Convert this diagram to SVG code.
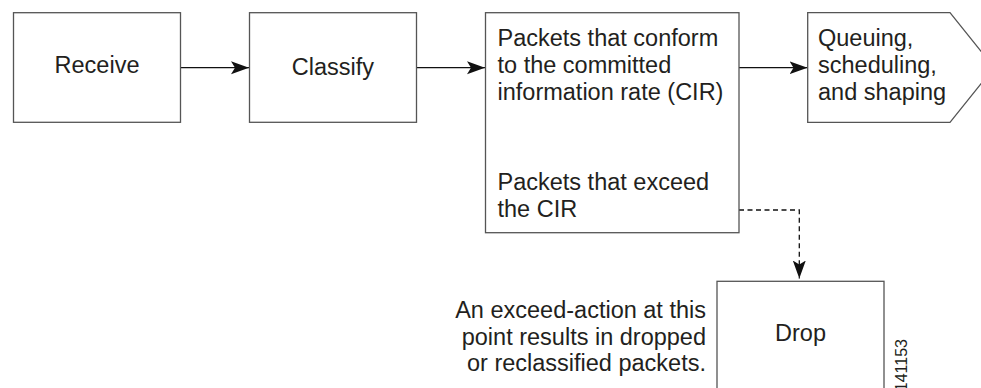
<svg xmlns="http://www.w3.org/2000/svg" width="981" height="388" viewBox="0 0 981 388">
<defs>
<style>
.box{fill:#fff;stroke:#555;stroke-width:1.3}
.t{font-family:"Liberation Sans",Arial,Helvetica,sans-serif;font-size:23.5px;fill:#231f20}
.c{stroke:#111;stroke-width:1.3;fill:none}
.d{stroke:#111;stroke-width:1.3;fill:none;stroke-dasharray:5 3.5}
</style>
<marker id="ah" viewBox="0 0 18 14" refX="18" refY="7" markerWidth="18" markerHeight="14" markerUnits="userSpaceOnUse" orient="auto">
<path d="M0,0.5 L18,7 L0,13.5 L4,7 Z" fill="#111"/>
</marker>
</defs>
<rect width="981" height="388" fill="#fff"/>
<g id="connectors">
<line class="c" x1="180.5" y1="67.7" x2="249" y2="67.7" marker-end="url(#ah)"/>
<line class="c" x1="416.5" y1="67.7" x2="485" y2="67.7" marker-end="url(#ah)"/>
<line class="c" x1="739" y1="67.7" x2="807.5" y2="67.7" marker-end="url(#ah)"/>
<path class="d" d="M739,210 H799.3 V278.5" marker-end="url(#ah)"/>
</g>
<g id="receive">
<rect class="box" x="13.5" y="12.7" width="167" height="109.6"/>
<text class="t" x="97" y="73" text-anchor="middle">Receive</text>
</g>
<g id="classify">
<rect class="box" x="249.5" y="12.7" width="167" height="109.6"/>
<text class="t" x="333" y="75" text-anchor="middle">Classify</text>
</g>
<g id="police">
<rect class="box" x="485.5" y="12.7" width="253.5" height="220"/>
<text class="t" x="497.5" y="45.7">Packets that conform</text>
<text class="t" x="497.5" y="72.7">to the committed</text>
<text class="t" x="497.5" y="100">information rate (CIR)</text>
<text class="t" x="497.5" y="190">Packets that exceed</text>
<text class="t" x="497.5" y="216.7">the CIR</text>
</g>
<g id="queue">
<path class="box" d="M807.7,12.7 H950 L994,67.5 L950,122.3 H807.7 Z"/>
<text class="t" x="818" y="45.7">Queuing,</text>
<text class="t" x="818" y="72.7">scheduling,</text>
<text class="t" x="818" y="100">and shaping</text>
</g>
<g id="drop">
<rect class="box" x="717" y="281.3" width="167" height="120"/>
<text class="t" x="800.5" y="341" text-anchor="middle">Drop</text>
</g>
<g id="note">
<text class="t" x="706" y="318.3" text-anchor="end">An exceed-action at this</text>
<text class="t" x="706" y="345" text-anchor="end">point results in dropped</text>
<text class="t" x="706" y="370.7" text-anchor="end">or reclassified packets.</text>
</g>
<text x="907" y="339" transform="rotate(-90 907 339)" text-anchor="end" font-family="Liberation Sans,Arial,sans-serif" font-size="16" fill="#231f20">141153</text>
</svg>
